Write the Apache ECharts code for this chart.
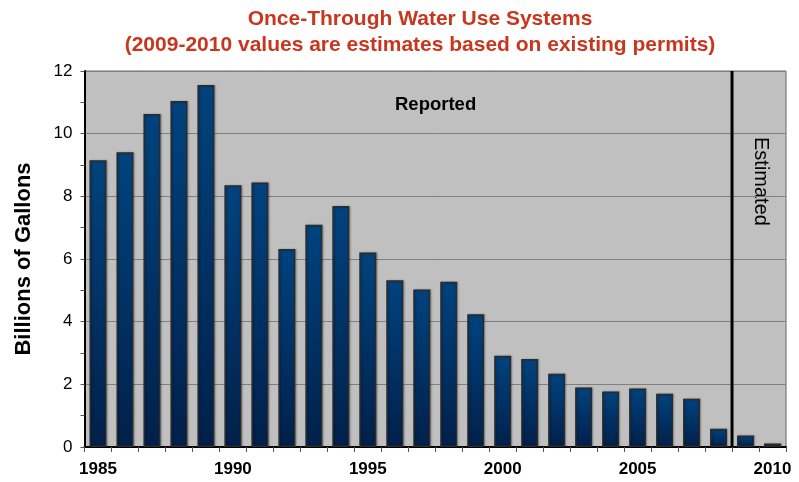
<!DOCTYPE html>
<html>
<head>
<meta charset="utf-8">
<script src="https://cdn.jsdelivr.net/npm/echarts@6/dist/echarts.min.js"></script>
<style>
  html, body { margin: 0; padding: 0; background: #ffffff; }
  #chart { width: 799px; height: 482px; }
</style>
</head>
<body>
<div id="chart"></div>
<script>
// Annual once-through water use, billions of gallons
const years = ['1985','1986','1987','1988','1989','1990','1991','1992','1993','1994',
  '1995','1996','1997','1998','1999','2000','2001','2002','2003','2004',
  '2005','2006','2007','2008','2009','2010'];
const gallons = [9.15, 9.41, 10.63, 11.04, 11.55, 8.35, 8.44, 6.32, 7.09, 7.69,
  6.21, 5.32, 5.03, 5.27, 4.24, 2.91, 2.81, 2.34, 1.90, 1.77,
  1.87, 1.70, 1.54, 0.58, 0.37, 0.11];
// Divider between reported and estimated years (category boundary index)
const dividerAt = 24;
const yTicks = { min: 0, max: 12, interval: 2 };

const titleLines = ['Once-Through Water Use Systems',
  '(2009-2010 values are estimates based on existing permits)'];

const chart = echarts.init(document.getElementById('chart'));
chart.setOption({
  animation: false,
  backgroundColor: '#ffffff',
  grid: {
    left: 84.5, right: 13, top: 71, bottom: 35,
    show: true,
    backgroundColor: '#C0C0C0',
    borderColor: '#666666',
    borderWidth: 1
  },
  xAxis: [{
    type: 'category',
    data: years,
    axisLine: { lineStyle: { color: '#000', width: 2 } },
    axisTick: { show: true, length: 5, lineStyle: { color: '#555' }, interval: 0 },
    axisLabel: {
      interval: 4,
      margin: 14,
      fontFamily: '"Liberation Sans", Arial, sans-serif',
      fontWeight: 'bold',
      fontSize: 17,
      color: '#000'
    }
  }, {
    type: 'value',
    min: 0, max: years.length,
    show: false
  }],
  yAxis: {
    type: 'value',
    min: yTicks.min, max: yTicks.max, interval: yTicks.interval,
    name: 'Billions of Gallons',
    nameLocation: 'middle',
    nameGap: 50,
    nameTextStyle: {
      fontFamily: '"Liberation Sans", Arial, sans-serif',
      fontWeight: 'bold',
      fontSize: 22,
      color: '#000'
    },
    axisLine: { show: true, lineStyle: { color: '#000', width: 2 } },
    axisTick: { show: true, length: 4, lineStyle: { color: '#555' } },
    minorTick: { show: true, splitNumber: 2, length: 4, lineStyle: { color: '#555' } },
    splitLine: { show: true, lineStyle: { color: '#808080', width: 1 } },
    axisLabel: {
      margin: 12,
      fontFamily: '"Liberation Sans", Arial, sans-serif',
      fontSize: 17,
      color: '#000'
    }
  },
  series: [{
    type: 'bar',
    data: gallons,
    barCategoryGap: '37%',
    itemStyle: {
      color: new echarts.graphic.LinearGradient(0, 0, 0, 1, [
        { offset: 0, color: '#00437F' },
        { offset: 1, color: '#00204A' }
      ]),
      borderColor: '#2B2B2B',
      borderWidth: 1.5,
      shadowColor: 'rgba(0,0,0,0.25)',
      shadowBlur: 2,
      shadowOffsetX: 1,
      shadowOffsetY: 0
    }
  }, {
    type: 'line',
    xAxisIndex: 1,
    data: [[dividerAt, yTicks.min], [dividerAt, yTicks.max]],
    symbol: 'none',
    silent: true,
    lineStyle: { color: '#000', width: 3 }
  }],
  graphic: [{
    type: 'text',
    x: 420, y: 6,
    style: {
      text: titleLines.join('\n'),
      font: 'bold 21px "Liberation Sans", Arial, sans-serif',
      lineHeight: 26,
      align: 'center',
      fill: '#C8361E'
    }
  }, {
    type: 'text',
    left: 395, top: 95,
    style: {
      text: 'Reported',
      font: 'bold 18.5px "Liberation Sans", Arial, sans-serif',
      fill: '#000'
    }
  }, {
    type: 'text',
    x: 771, y: 137,
    rotation: -Math.PI / 2,
    style: {
      text: 'Estimated',
      font: '20px "Liberation Sans", Arial, sans-serif',
      fill: '#000'
    }
  }]
});
</script>
</body>
</html>
